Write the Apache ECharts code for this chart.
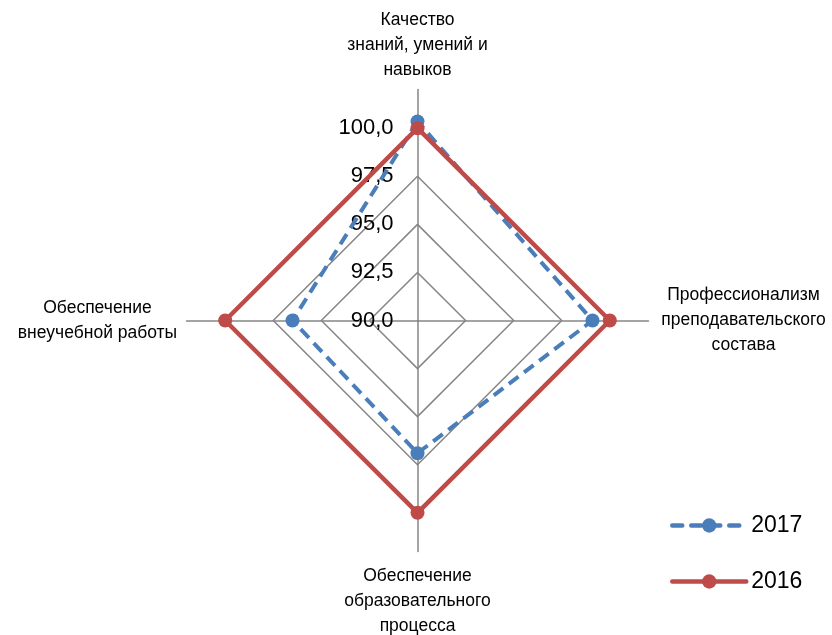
<!DOCTYPE html>
<html><head><meta charset="utf-8">
<script src="https://cdn.jsdelivr.net/npm/echarts@6/dist/echarts.min.js"></script>
<style>html,body{margin:0;padding:0;background:#fff}#c{width:832px;height:635px}</style>
</head><body><div id="c"></div>
<script>
const indicatorNames = [
  'Качество\nзнаний, умений и\nнавыков',
  'Обеспечение\nвнеучебной работы',
  'Обеспечение\nобразовательного\nпроцесса',
  'Профессионализм\nпреподавательского\nсостава'
];
const seriesNames = ['2017', '2016'];
const values2017 = [100.35, 96.5, 96.9, 99.1];
const values2016 = [100.0, 100.0, 100.0, 100.0];
const axisMin = 90, axisMax = 100, axisStep = 2.5;

const FONT = '"Liberation Sans Narrow", "Arial Narrow", "Liberation Sans", Arial, sans-serif';
const GRAY = '#868686';
const BLUE = '#4a7ebb', RED = '#be4b48';
const CX = 417.5, CY = 320.5, R = 192.3, R_OUT = 231;

const nameCfg = [
  {nameGap: 7, nameTextStyle: {align: 'center', verticalAlign: 'bottom'}},
  {nameGap: 89, nameTextStyle: {align: 'center', verticalAlign: 'middle', padding: [4, 0, 0, 0]}},
  {nameGap: 12, nameTextStyle: {align: 'center', verticalAlign: 'top'}},
  {nameGap: 95, nameTextStyle: {align: 'center', verticalAlign: 'middle', padding: [8, 0, 0, 0]}}
];

const styles2017 = {symbol: 'circle', symbolSize: 14, lineStyle: {color: BLUE, width: 4, type: [12, 7]}, itemStyle: {color: BLUE}};
const styles2016 = {symbol: 'circle', symbolSize: 14, lineStyle: {color: RED, width: 4.5}, itemStyle: {color: RED}};

const chart = echarts.init(document.getElementById('c'), null, {renderer: 'canvas'});
chart.setOption({
  animation: false,
  legend: {
    orient: 'vertical', left: 665, top: 509, itemWidth: 74, itemHeight: 18, itemGap: 33, itemGap2: 0,
    textStyle: {fontFamily: FONT, fontSize: 23, color: '#000'},
    data: [
      {name: seriesNames[0], lineStyle: {width: 4.5, cap: 'round', type: [10, 9]}},
      {name: seriesNames[1], lineStyle: {width: 4.5, cap: 'round'}}
    ]
  },
  grid: {left: 0, top: 0, width: 1, height: 1, show: false},
  xAxis: {type: 'category', show: false, data: []},
  yAxis: {type: 'value', show: false},
  radar: [
    {
      center: [CX, CY], radius: R_OUT, shape: 'polygon', splitNumber: 1,
      axisName: {color: '#000', fontFamily: FONT, fontSize: 17.5, lineHeight: 25},
      axisLine: {lineStyle: {color: GRAY, width: 1.5}},
      splitLine: {show: false}, splitArea: {show: false},
      indicator: indicatorNames.map((n, i) => Object.assign({name: n, min: axisMin, max: axisMax + 2}, nameCfg[i]))
    },
    {
      center: [CX, CY], radius: R, shape: 'polygon', splitNumber: (axisMax - axisMin) / axisStep,
      axisName: {show: false},
      axisLine: {show: false},
      splitLine: {lineStyle: {color: GRAY, width: 1.5}}, splitArea: {show: false},
      indicator: indicatorNames.map((n, i) => ({
        name: '', min: axisMin, max: axisMax,
        axisLabel: {show: i === 0, color: '#000', fontFamily: FONT, fontSize: 22, margin: 24,
          formatter: v => v.toFixed(1).replace('.', ',')}
      }))
    }
  ],
  series: [
    Object.assign({type: 'line', name: seriesNames[0], data: [], silent: true}, styles2017, {symbolSize: 16}),
    Object.assign({type: 'line', name: seriesNames[1], data: [], silent: true}, styles2016, {symbolSize: 16}),
    Object.assign({type: 'radar', radarIndex: 1, name: seriesNames[0],
      data: [{name: seriesNames[0], value: values2017}]}, styles2017),
    Object.assign({type: 'radar', radarIndex: 1, name: seriesNames[1],
      data: [{name: seriesNames[1], value: values2016}]}, styles2016)
  ]
});
</script></body></html>
